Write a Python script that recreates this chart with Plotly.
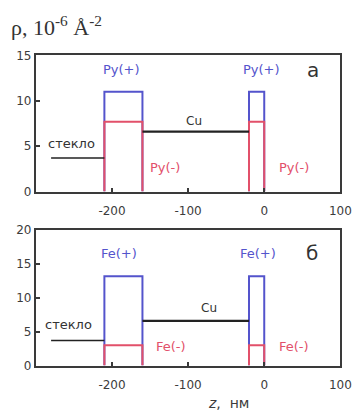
import plotly.graph_objects as go

# ---- data ----
# layer boundaries (nm)
glass_x = [-280, -210]
glass_rho = 3.7
cu_x = [-160, -20]
cu_rho = 6.6
layer1_x = [-210, -160]
layer2_x = [-20, 0]

# panel a (Py)
py_plus = 11.0
py_minus = 7.7
# panel б (Fe)
fe_plus = 13.2
fe_minus = 3.0

x_ticks = [-200, -100, 0, 100]
x_ticktext = ["-200", "-100", "0", "100"]
ya_ticks = [0, 5, 10, 15]
yb_ticks = [0, 5, 10, 15, 20]

BLUE = "#5454cc"
RED = "#e2506a"
BLACK = "#222222"
AX = "#3a3a3a"

fig = go.Figure()


def box(xs, h):
    return [xs[0], xs[0], xs[1], xs[1]], [0, h, h, 0]


def add_panel(xa, ya, plus, minus):
    for lx in (layer1_x, layer2_x):
        bx, by = box(lx, plus)
        fig.add_trace(go.Scatter(x=bx, y=by, mode="lines", line=dict(color=BLUE, width=2),
                                 xaxis=xa, yaxis=ya, showlegend=False, hoverinfo="skip"))
    for lx in (layer1_x, layer2_x):
        bx, by = box(lx, minus)
        fig.add_trace(go.Scatter(x=bx, y=by, mode="lines", line=dict(color=RED, width=2),
                                 xaxis=xa, yaxis=ya, showlegend=False, hoverinfo="skip"))
    fig.add_trace(go.Scatter(x=glass_x, y=[glass_rho, glass_rho], mode="lines",
                             line=dict(color=BLACK, width=1.6), xaxis=xa, yaxis=ya,
                             showlegend=False, hoverinfo="skip"))
    fig.add_trace(go.Scatter(x=cu_x, y=[cu_rho, cu_rho], mode="lines",
                             line=dict(color=BLACK, width=2.2), xaxis=xa, yaxis=ya,
                             showlegend=False, hoverinfo="skip"))


add_panel("x", "y", py_plus, py_minus)
add_panel("x2", "y2", fe_plus, fe_minus)

FONT = "DejaVu Sans"
axis_common = dict(showline=True, linewidth=2, linecolor=AX, mirror=True,
                   ticks="inside", ticklen=4, tickwidth=2, tickcolor=AX,
                   showgrid=False, zeroline=False,
                   tickfont=dict(family=FONT, size=12, color="#3c3c3c"))

fig.update_layout(
    width=363, height=416,
    margin=dict(l=0, r=0, t=0, b=0),
    paper_bgcolor="white", plot_bgcolor="white",
    xaxis=dict(domain=[37 / 363, 351 / 363], range=[-300, 100], tickvals=x_ticks,
               ticktext=x_ticktext, anchor="y", ticklabelstandoff=7, **axis_common),
    yaxis=dict(domain=[1 - 191 / 416, 1 - 50 / 416], range=[0, 15], tickvals=ya_ticks,
               anchor="x", **axis_common),
    xaxis2=dict(domain=[37 / 363, 351 / 363], range=[-300, 100], tickvals=x_ticks,
                ticktext=x_ticktext, anchor="y2", ticklabelstandoff=7, **axis_common),
    yaxis2=dict(domain=[1 - 371 / 416, 1 - 231 / 416], range=[0, 20], tickvals=yb_ticks,
                anchor="x2", **axis_common),
)


def ann(text, x, y, xref, yref, color, size=13, family=FONT):
    fig.add_annotation(text=text, x=x, y=y, xref=xref, yref=yref, showarrow=False,
                       xanchor="center", yanchor="middle",
                       font=dict(family=family, size=size, color=color))


# panel a labels
ann("Py(+)", -188, 13.4, "x", "y", BLUE)
ann("Py(+)", -3, 13.4, "x", "y", BLUE)
ann("a", 64, 13.4, "x", "y", "#333", size=20)
ann("Cu", -92, 7.8, "x", "y", "#333", size=12)
ann("стекло", -253, 5.3, "x", "y", "#333", size=13)
ann("Py(-)", -131, 2.7, "x", "y", RED)
ann("Py(-)", 39, 2.7, "x", "y", RED)

# panel б labels
ann("Fe(+)", -191, 16.6, "x2", "y2", BLUE)
ann("Fe(+)", -8, 16.6, "x2", "y2", BLUE)
ann("б", 63, 16.6, "x2", "y2", "#333", size=20)
ann("Cu", -73, 8.5, "x2", "y2", "#333", size=12)
ann("стекло", -257, 6.0, "x2", "y2", "#333", size=13)
ann("Fe(-)", -122, 2.8, "x2", "y2", RED)
ann("Fe(-)", 39, 2.8, "x2", "y2", RED)

# axis titles
fig.add_annotation(text="ρ, 10<sup>-6</sup> Å<sup>-2</sup>", x=9 / 363, y=1 - 20 / 416,
                   xref="paper", yref="paper", showarrow=False,
                   xanchor="left", yanchor="middle",
                   font=dict(family="Liberation Serif", size=22, color="#333"))
fig.add_annotation(text="<i>z</i>,  нм", x=236 / 363, y=1 - 410 / 416, xref="paper", yref="paper",
                   showarrow=False, xanchor="center", yanchor="middle",
                   font=dict(family=FONT, size=14, color="#3c3c3c"))

fig.write_html("out.html")
